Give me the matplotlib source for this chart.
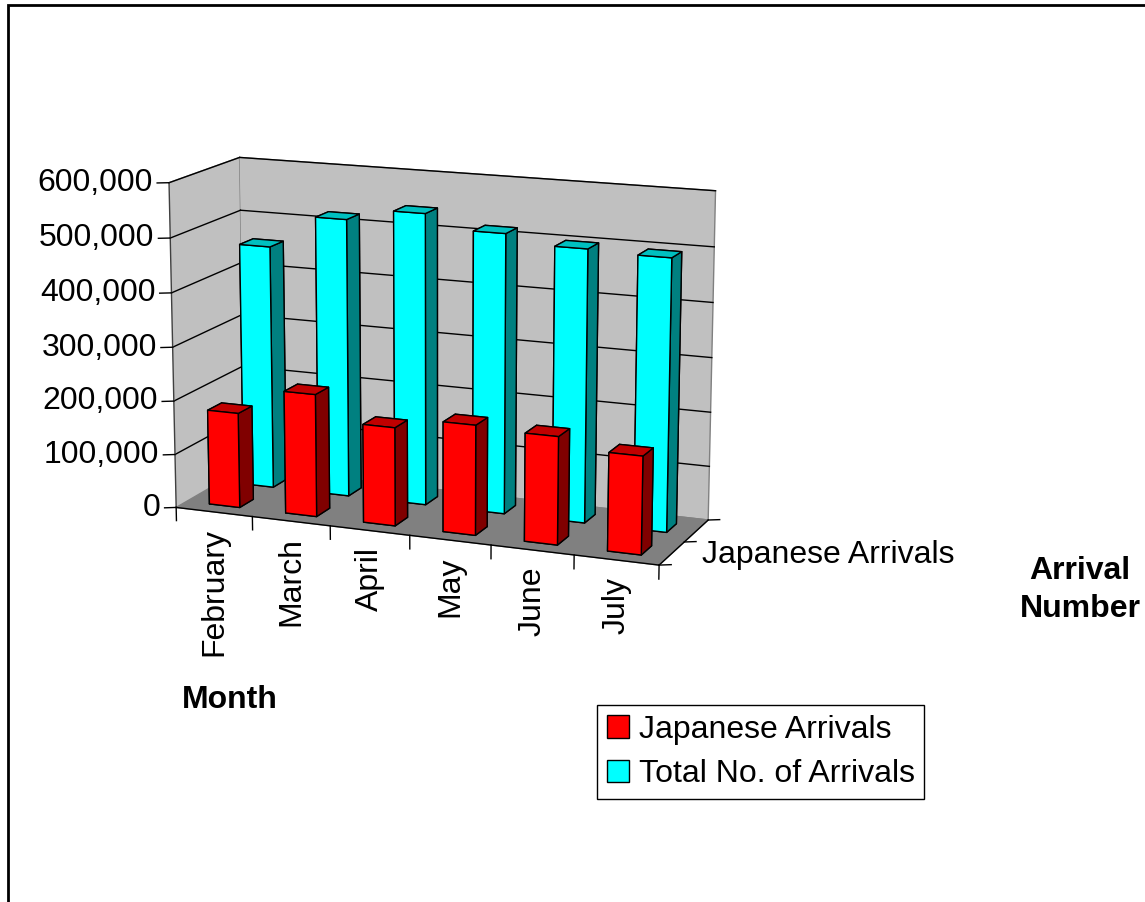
import matplotlib
matplotlib.use('Agg')
import matplotlib.pyplot as plt
from matplotlib.patches import Patch, Rectangle
from mpl_toolkits.mplot3d import proj3d
import numpy as np

months = ['February', 'March', 'April', 'May', 'June', 'July']
japanese = [177000, 227000, 181000, 201000, 196000, 177000]
total = [457000, 519000, 541000, 516000, 500000, 496000]
series_names = ['Japanese Arrivals', 'Total No. of Arrivals']
z_ticks = [0, 100000, 200000, 300000, 400000, 500000, 600000]

plt.rcParams['font.family'] = ['Liberation Sans', 'DejaVu Sans']
fs = 23

fig = plt.figure(figsize=(11.45, 9.02), dpi=100)
ax = fig.add_axes([0.0015, 0.2242, 0.75, 0.75], projection='3d', computed_zorder=False)
ax.set_proj_type('persp', focal_length=0.8)
ax.view_init(elev=13.5, azim=-68)
ax.set_box_aspect((530, 165, 345), zoom=0.914)

n = len(months)
ax.set_xlim(0, n, view_margin=0)
ax.set_ylim(0, 2, view_margin=0)
ax.set_zlim(0, 600000, view_margin=0)

# walls and floor
for axis in (ax.xaxis, ax.yaxis):
    axis.set_pane_color('#C0C0C0')
ax.zaxis.set_pane_color('#808080')
for axis in (ax.xaxis, ax.yaxis, ax.zaxis):
    axis.pane.set_edgecolor('#808080')
    axis.line.set_color('none')
ax.set_xticks([])
ax.set_yticks([])
ax.set_zticks([])
ax.grid(False)
ax.patch.set_alpha(0)

# gridlines on back and side walls
for z in z_ticks[1:]:
    ax.plot([0, n], [2, 2], [z, z], color='black', lw=1, zorder=1)
    ax.plot([0, 0], [0, 2], [z, z], color='black', lw=1, zorder=1)

# bars
xs = np.arange(n) + 0.3
w, d = 0.4, 0.4
cyan_faces = ['#00C0C0', '#00C0C0', '#00FFFF', '#00FFFF', '#008080', '#008080']
red_faces = ['#C00000', '#C00000', '#FF0000', '#FF0000', '#800000', '#800000']
ax.bar3d(xs, np.full(n, 1.3), np.zeros(n), w, d, total, color=cyan_faces * n,
         shade=False, edgecolor='black', linewidth=1, zorder=2)
ax.bar3d(xs, np.full(n, 0.3), np.zeros(n), w, d, japanese, color=red_faces * n,
         shade=False, edgecolor='black', linewidth=1, zorder=3)

# axis lines and ticks
ax.plot([0, 0], [0, 0], [0, 600000], color='#404040', lw=1, zorder=4)
ax.plot([0, n], [0, 0], [0, 0], color='black', lw=1, zorder=4)
ax.plot([n, n], [0, 2], [0, 0], color='black', lw=1, zorder=4)
for z in z_ticks:
    ax.plot([0, -0.12], [0, -0.07], [z, z], color='black', lw=1, zorder=4)
for i in range(n + 1):
    ax.plot([i, i], [0, 0], [0, -25000], color='black', lw=1, zorder=4)
for j in range(3):
    ax.plot([n, n + 0.12], [j, j + 0.07], [0, 0], color='black', lw=1, zorder=4)

fig.canvas.draw()


def to_fig(x, y, z):
    xp, yp, _ = proj3d.proj_transform(x, y, z, ax.get_proj())
    return fig.transFigure.inverted().transform(ax.transData.transform((xp, yp)))


px = 1 / 1145
for z in z_ticks:
    fx, fy = to_fig(-0.12, -0.07, z)
    fig.text(fx - 4 * px, fy, f'{z:,}', ha='right', va='center', fontsize=fs)
for i, m in enumerate(months):
    fx, fy = to_fig(i + 0.5, 0, -30000)
    fig.text(fx, fy, m, rotation=90, ha='center', va='top', fontsize=fs)
fx, fy = to_fig(n + 0.12, 0.5, 0)
fig.text(fx + 20 * px, fy, series_names[0], ha='left', va='center', fontsize=fs)

fig.text(230 / 1145, 1 - 700 / 902, 'Month', ha='center', va='center',
         fontsize=fs, weight='bold')
fig.text(1080 / 1145, 1 - 590 / 902, 'Arrival\nNumber', ha='center', va='center',
         fontsize=fs, weight='bold', multialignment='center', linespacing=1.35)

handles = [Patch(facecolor='#FF0000', edgecolor='black'),
           Patch(facecolor='#00FFFF', edgecolor='black')]
leg = fig.legend(handles, series_names, loc='upper left',
                 bbox_to_anchor=(597 / 1145, 1 - 705 / 902), fontsize=fs,
                 frameon=True, fancybox=False, edgecolor='black', framealpha=1,
                 borderaxespad=0, handlelength=0.7, handleheight=0.7,
                 handletextpad=0.3, borderpad=0.3, labelspacing=0.45)
leg.get_frame().set_linewidth(1)

fig.add_artist(Rectangle((8 / 1145, -0.05), 1.2, 1.05 - 5 / 902, transform=fig.transFigure,
                         fill=False, edgecolor='black', lw=2))

fig.savefig('out.png', dpi=100, facecolor='white')
